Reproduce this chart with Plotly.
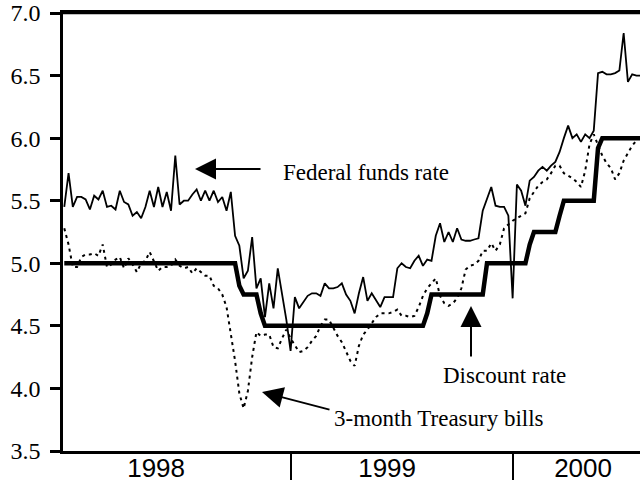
import plotly.graph_objects as go

# Weekly observations, Jan 1998 - Jul 2000 (x = week number)
fed_funds = [5.45, 5.72, 5.45, 5.53, 5.53, 5.51, 5.43, 5.54, 5.51, 5.58,
             5.45, 5.46, 5.43, 5.58, 5.49, 5.47, 5.38, 5.41, 5.36, 5.45,
             5.58, 5.45, 5.61, 5.45, 5.57, 5.42, 5.86, 5.47, 5.50, 5.50,
             5.55, 5.59, 5.50, 5.58, 5.50, 5.58, 5.49, 5.53, 5.42, 5.57,
             5.22, 5.14, 4.88, 4.94, 5.21, 4.80, 4.88, 4.57, 4.84, 4.64,
             4.96, 4.77, 4.55, 4.30, 4.73, 4.64, 4.69, 4.74, 4.76, 4.76,
             4.74, 4.84, 4.80, 4.80, 4.81, 4.84, 4.75, 4.70, 4.60, 4.76,
             4.89, 4.70, 4.76, 4.70, 4.65, 4.73, 4.73, 4.73, 4.96, 5.00,
             4.97, 4.96, 5.02, 5.06, 4.98, 5.03, 5.02, 5.22, 5.32, 5.17,
             5.25, 5.17, 5.28, 5.19, 5.18, 5.18, 5.19, 5.20, 5.42, 5.52,
             5.61, 5.46, 5.45, 5.45, 5.38, 4.72, 5.63, 5.58, 5.46, 5.66,
             5.69, 5.74, 5.77, 5.74, 5.78, 5.81, 5.89, 6.00, 6.10, 6.00,
             6.03, 5.97, 6.03, 6.00, 6.06, 6.52, 6.53, 6.51, 6.51, 6.52,
             6.54, 6.84, 6.45, 6.51, 6.50, 6.50]

tbill_3m = [5.28, 5.15, 4.97, 4.97, 5.05, 5.07, 5.07, 5.08, 5.06, 5.15,
            4.97, 4.99, 5.03, 5.05, 4.96, 5.04, 4.99, 4.93, 5.00, 5.02,
            5.09, 5.02, 4.94, 4.97, 4.97, 4.98, 5.03, 4.98, 4.96, 4.97,
            4.92, 4.96, 4.93, 4.90, 4.90, 4.82, 4.80, 4.75, 4.65, 4.45,
            4.22, 3.96, 3.84, 3.98, 4.25, 4.45, 4.42, 4.43, 4.43, 4.33,
            4.32, 4.40, 4.47, 4.40, 4.34, 4.29, 4.30, 4.33, 4.38, 4.42,
            4.50, 4.55, 4.55, 4.48, 4.42, 4.37, 4.30, 4.22, 4.18, 4.34,
            4.43, 4.47, 4.52, 4.57, 4.60, 4.60, 4.60, 4.61, 4.63, 4.58,
            4.58, 4.57, 4.58, 4.65, 4.74, 4.80, 4.84, 4.88, 4.74, 4.68,
            4.66, 4.68, 4.72, 4.80, 4.95, 4.98, 4.99, 5.02, 5.10, 5.10,
            5.16, 5.10, 5.15, 5.28, 5.31, 5.34, 5.36, 5.38, 5.40, 5.52,
            5.57, 5.62, 5.65, 5.67, 5.72, 5.78, 5.78, 5.72, 5.70, 5.68,
            5.65, 5.61, 5.74, 5.95, 6.03, 5.94, 5.86, 5.80, 5.76, 5.67,
            5.72, 5.82, 5.88, 5.94, 5.98, 6.02]

discount = [5.00, 5.00, 5.00, 5.00, 5.00, 5.00, 5.00, 5.00, 5.00, 5.00,
            5.00, 5.00, 5.00, 5.00, 5.00, 5.00, 5.00, 5.00, 5.00, 5.00,
            5.00, 5.00, 5.00, 5.00, 5.00, 5.00, 5.00, 5.00, 5.00, 5.00,
            5.00, 5.00, 5.00, 5.00, 5.00, 5.00, 5.00, 5.00, 5.00, 5.00,
            5.00, 4.82, 4.75, 4.75, 4.75, 4.75, 4.60, 4.50, 4.50, 4.50,
            4.50, 4.50, 4.50, 4.50, 4.50, 4.50, 4.50, 4.50, 4.50, 4.50,
            4.50, 4.50, 4.50, 4.50, 4.50, 4.50, 4.50, 4.50, 4.50, 4.50,
            4.50, 4.50, 4.50, 4.50, 4.50, 4.50, 4.50, 4.50, 4.50, 4.50,
            4.50, 4.50, 4.50, 4.50, 4.50, 4.60, 4.75, 4.75, 4.75, 4.75,
            4.75, 4.75, 4.75, 4.75, 4.75, 4.75, 4.75, 4.75, 4.75, 5.00,
            5.00, 5.00, 5.00, 5.00, 5.00, 5.00, 5.00, 5.00, 5.00, 5.15,
            5.25, 5.25, 5.25, 5.25, 5.25, 5.25, 5.38, 5.50, 5.50, 5.50,
            5.50, 5.50, 5.50, 5.50, 5.50, 5.92, 6.00, 6.00, 6.00, 6.00,
            6.00, 6.00, 6.00, 6.00, 6.00, 6.00]

weeks = list(range(len(fed_funds)))

year_labels = ["1998", "1999", "2000"]
year_label_pos = [21.5, 75.6, 121.5]
year_boundaries = [53.1, 105.1]
y_ticks = [3.5, 4.0, 4.5, 5.0, 5.5, 6.0, 6.5, 7.0]

SERIF = "Liberation Serif, Times New Roman, serif"
SANS = "Liberation Sans, Arial, sans-serif"

fig = go.Figure()
fig.add_trace(go.Scatter(x=weeks, y=tbill_3m, mode="lines",
                         line=dict(color="black", width=2, dash="3px,4px"),
                         name="3-month Treasury bills"))
fig.add_trace(go.Scatter(x=weeks, y=fed_funds, mode="lines",
                         line=dict(color="black", width=1.8),
                         name="Federal funds rate"))
fig.add_trace(go.Scatter(x=weeks, y=discount, mode="lines",
                         line=dict(color="black", width=4.5),
                         name="Discount rate"))

# plot area at x 63..640, y 13..451 (page body margin removed below)
fig.update_layout(
    width=640, height=482,
    margin=dict(l=63, r=0, t=13, b=31, autoexpand=False),
    plot_bgcolor="white", paper_bgcolor="white",
    showlegend=False,
)

fig.update_xaxes(
    range=[-0.3, 134.83], automargin=False,
    showline=True, linecolor="black", linewidth=2.5, mirror=True,
    showgrid=False, zeroline=False,
    tickmode="array", tickvals=year_label_pos, ticktext=year_labels,
    ticks="", ticklabelstandoff=-8, ticklabeloverflow="allow",
    tickfont=dict(family=SANS, size=26, color="black"),
    minor=dict(tickmode="array", tickvals=year_boundaries, ticks="outside",
               ticklen=26, tickwidth=2, tickcolor="black", showgrid=False),
)
fig.update_yaxes(
    range=[3.5, 7.0], automargin=False,
    showline=True, linecolor="black", linewidth=2.5,
    showgrid=False, zeroline=False,
    tickmode="array", tickvals=y_ticks, tickformat=".1f",
    ticks="outside", ticklen=10, tickwidth=2.5, tickcolor="black",
    ticklabelstandoff=5, ticklabeloverflow="allow",
    tickfont=dict(family=SERIF, size=24, color="black"),
)

# top border of the plot frame
fig.add_shape(type="line", xref="paper", yref="paper", x0=0, x1=1, y0=1, y1=1,
              line=dict(color="black", width=2.5))

ann_font = dict(family=SERIF, size=23, color="black")

# Arrow / label placement given in screen pixels, converted to paper coordinates
W, H = 577.0, 438.0
def px(xp):
    return (xp - 63) / W
def py(yp):
    return (451 - yp) / H

arrows = [
    ((195, 169), (262, 169)),
    ((471, 306), (471, 358)),
    ((262, 392), (331, 410)),
]
for (tip, tail) in arrows:
    fig.add_annotation(
        xref="paper", yref="paper", x=px(tip[0]), y=py(tip[1]),
        axref="pixel", ayref="pixel",
        ax=tail[0] - tip[0], ay=tail[1] - tip[1],
        text="", showarrow=True, arrowhead=2, arrowsize=2.1,
        arrowwidth=2, arrowcolor="black", standoff=0, startstandoff=0,
    )

labels = [
    ("Federal funds rate", 281, 172),
    ("Discount rate", 441, 375),
    ("3-month Treasury bills", 332, 418),
]
for (txt, xl, yc) in labels:
    fig.add_annotation(
        xref="paper", yref="paper", x=px(xl), y=py(yc),
        xanchor="left", yanchor="middle", text=txt, showarrow=False,
        font=ann_font,
    )

fig.write_html("out.html",
               config={"displayModeBar": False},
               post_script="document.body.style.margin='0px';")
